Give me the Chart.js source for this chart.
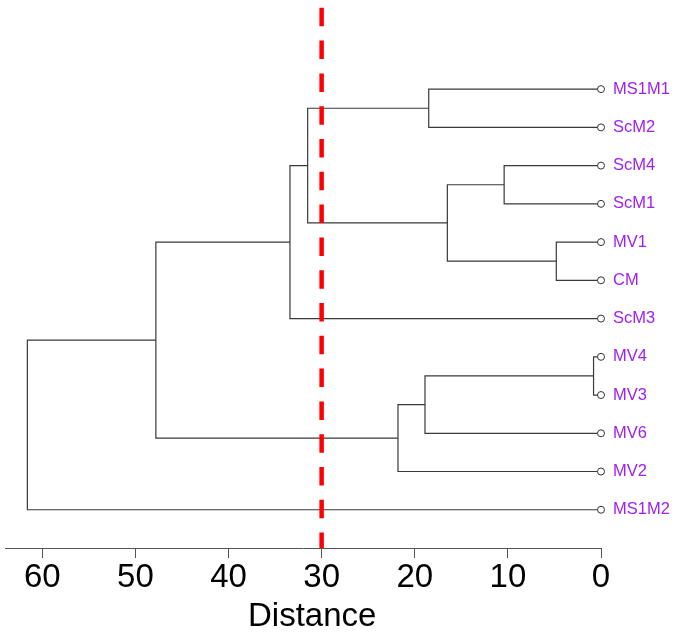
<!DOCTYPE html>
<html lang="en">
<head>
  <meta charset="UTF-8">
  <title>Dendrogram</title>
  <script src="https://cdn.jsdelivr.net/npm/chart.js@4.4.1/dist/chart.umd.min.js"></script>
  <style>
    html, body { margin: 0; padding: 0; background: #fff; }
    #wrap { width: 675px; height: 632px; }
  </style>
</head>
<body>
  <div id="wrap"><canvas id="dendro"></canvas></div>
  <script>
    // leaf order, top to bottom
    const leaves = ['MS1M1', 'ScM2', 'ScM4', 'ScM1', 'MV1', 'CM', 'ScM3', 'MV4', 'MV3', 'MV6', 'MV2', 'MS1M2'];
    // hclust style: negative = leaf number, positive = earlier merge
    const merges = [[-8, -9], [-5, -6], [-3, -4], [3, 2], [-1, -2], [1, -10], [6, -11], [5, 4], [8, -7], [9, 7], [10, -12]];
    const heights = [0.8, 4.8, 10.4, 16.5, 18.5, 18.9, 21.8, 31.5, 33.4, 47.8, 61.6];
    const xTicks = [0, 10, 20, 30, 40, 50, 60];
    const cutHeight = 30;

    const nodes = [];
    function nodeOf(m) {
      return m < 0 ? { x: 0, y: -m } : nodes[m - 1];
    }

    const linkSets = merges.map((pair, i) => {
      const a = nodeOf(pair[0]);
      const b = nodeOf(pair[1]);
      const h = heights[i];
      nodes.push({ x: h, y: (a.y + b.y) / 2 });
      return {
        data: [{ x: a.x, y: a.y }, { x: h, y: a.y }, { x: h, y: b.y }, { x: b.x, y: b.y }],
        showLine: true,
        borderColor: '#3a3a3a',
        borderWidth: 1.2,
        pointRadius: 0,
        tension: 0
      };
    });

    const datasets = [
      {
        data: [{ x: cutHeight, y: -1.2 }, { x: cutHeight, y: 13 }],
        showLine: true,
        borderColor: '#ff0000',
        borderWidth: 4.5,
        borderDash: [18.5, 14.3],
        borderDashOffset: 30,
        pointRadius: 0
      },
      {
        data: leaves.map((name, i) => ({ x: 0, y: i + 1 })),
        pointStyle: 'circle',
        pointRadius: 3.5,
        pointBorderWidth: 1,
        pointBorderColor: '#333',
        pointBackgroundColor: '#fff',
        clip: false
      }
    ].concat(linkSets);

    const font = 'Liberation Sans, Arial, sans-serif';

    new Chart(document.getElementById('dendro'), {
      type: 'scatter',
      data: { datasets: datasets },
      options: {
        responsive: true,
        maintainAspectRatio: false,
        animation: false,
        layout: { padding: { left: 5, right: 0, top: 0, bottom: 0 } },
        plugins: {
          legend: { display: false },
          tooltip: { enabled: false }
        },
        scales: {
          x: {
            type: 'linear',
            reverse: true,
            min: 0,
            max: 64,
            afterBuildTicks: scale => { scale.ticks = xTicks.map(v => ({ value: v })); },
            afterFit: scale => {
              scale.height = 84;
              scale.paddingLeft = 0;
              scale.paddingRight = 0;
            },
            grid: { drawOnChartArea: false, drawTicks: true, tickLength: 10, color: '#555' },
            border: { display: true, color: '#555', width: 1 },
            ticks: { color: '#000', padding: 0, maxRotation: 0, autoSkip: false, font: { family: font, size: 33 } },
            title: { display: true, text: '  Distance', color: '#000', padding: { top: 0, bottom: 0 }, font: { family: font, size: 33, lineHeight: 0.9 } }
          },
          y: {
            type: 'linear',
            position: 'right',
            reverse: true,
            min: -1.2,
            max: 13,
            afterBuildTicks: scale => { scale.ticks = leaves.map((n, i) => ({ value: i + 1 })); },
            afterFit: scale => {
              scale.width = 74;
              scale.paddingTop = 0;
              scale.paddingBottom = 0;
            },
            grid: { display: false, drawTicks: false },
            border: { display: false },
            ticks: {
              color: '#a020f0',
              padding: 12,
              autoSkip: false,
              font: { family: font, size: 16.5 },
              callback: v => leaves[v - 1]
            }
          }
        }
      }
    });
  </script>
</body>
</html>
